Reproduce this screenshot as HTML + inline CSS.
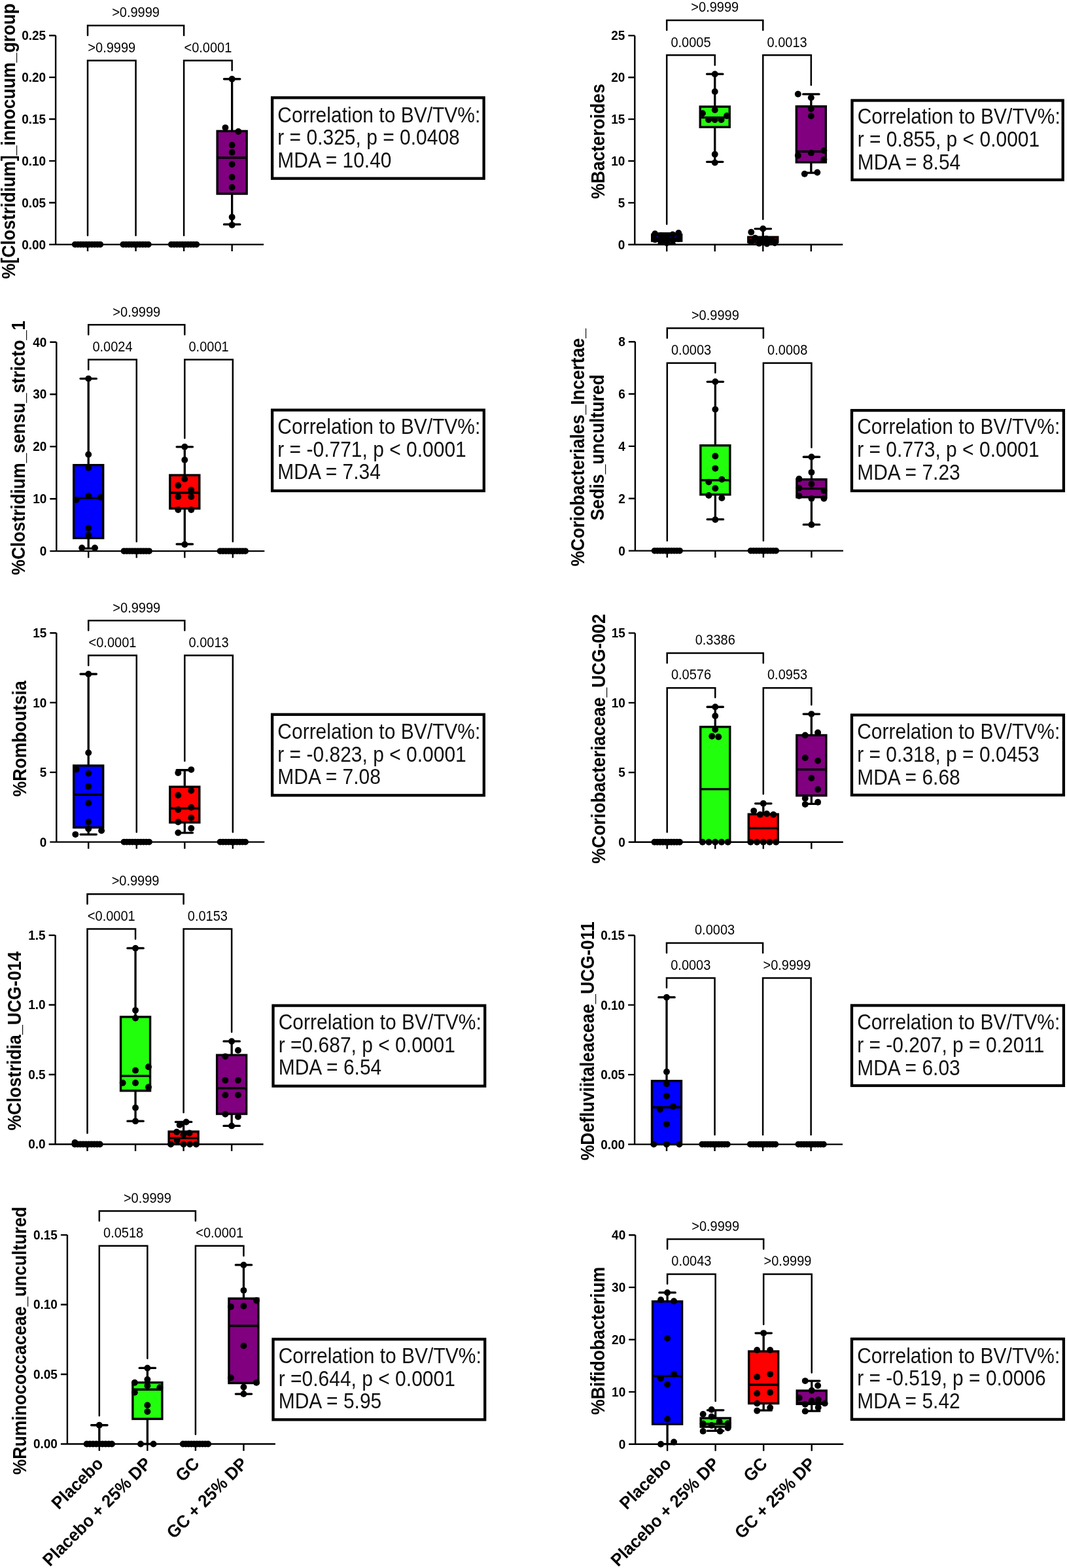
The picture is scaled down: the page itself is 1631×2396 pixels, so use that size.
<!DOCTYPE html>
<html><head><meta charset="utf-8"><title>Figure</title>
<style>html,body{margin:0;padding:0;background:#fff;overflow:hidden;}svg{display:block;}</style></head>
<body><svg width="1631" height="2396" viewBox="0 0 1631 2396" font-family="'Liberation Sans', Arial, Helvetica, sans-serif">
<rect width="1631" height="2396" fill="#fff"/>
<text transform="translate(22.7 215.8) rotate(-90) scale(1 1.12)" text-anchor="middle" font-weight="bold" font-size="26.6">%[Clostridium]_innocuum_group</text>
<text transform="translate(70.1 380.5) scale(1 1.09)" text-anchor="end" font-weight="bold" font-size="19">0.00</text>
<text transform="translate(70.1 316.62) scale(1 1.09)" text-anchor="end" font-weight="bold" font-size="19">0.05</text>
<text transform="translate(70.1 252.74) scale(1 1.09)" text-anchor="end" font-weight="bold" font-size="19">0.10</text>
<text transform="translate(70.1 188.86) scale(1 1.09)" text-anchor="end" font-weight="bold" font-size="19">0.15</text>
<text transform="translate(70.1 124.98) scale(1 1.09)" text-anchor="end" font-weight="bold" font-size="19">0.20</text>
<text transform="translate(70.1 61.1) scale(1 1.09)" text-anchor="end" font-weight="bold" font-size="19">0.25</text>
<path d="M85.1 54.2V373.6H403.1M75.1 373.6H85.1M75.1 309.72H85.1M75.1 245.84H85.1M75.1 181.96H85.1M75.1 118.08H85.1M75.1 54.2H85.1M134 373.6V384.1M207.55 373.6V384.1M281.1 373.6V384.1M354.65 373.6V384.1" stroke="#000" stroke-width="2.4" fill="none"/>
<path d="M134 54.1V39.1H281.1V54.1M134 359.7V92.4H207.55V359.7M281.1 359.7V92.4H354.65V107.5" stroke="#000" stroke-width="2.5" fill="none" stroke-linecap="round" stroke-linejoin="miter"/>
<text transform="translate(207.55 26.3) scale(1 1.14)" text-anchor="middle" font-size="20">&gt;0.9999</text>
<text transform="translate(170.78 79.6) scale(1 1.14)" text-anchor="middle" font-size="20">&gt;0.9999</text>
<text transform="translate(317.88 79.6) scale(1 1.14)" text-anchor="middle" font-size="20">&lt;0.0001</text>
<circle cx="114.8" cy="373.6" r="4.95"/>
<circle cx="119.07" cy="373.6" r="4.95"/>
<circle cx="123.33" cy="373.6" r="4.95"/>
<circle cx="127.6" cy="373.6" r="4.95"/>
<circle cx="131.87" cy="373.6" r="4.95"/>
<circle cx="136.13" cy="373.6" r="4.95"/>
<circle cx="140.4" cy="373.6" r="4.95"/>
<circle cx="144.67" cy="373.6" r="4.95"/>
<circle cx="148.93" cy="373.6" r="4.95"/>
<circle cx="153.2" cy="373.6" r="4.95"/>
<circle cx="188.35" cy="373.6" r="4.95"/>
<circle cx="192.62" cy="373.6" r="4.95"/>
<circle cx="196.88" cy="373.6" r="4.95"/>
<circle cx="201.15" cy="373.6" r="4.95"/>
<circle cx="205.42" cy="373.6" r="4.95"/>
<circle cx="209.68" cy="373.6" r="4.95"/>
<circle cx="213.95" cy="373.6" r="4.95"/>
<circle cx="218.22" cy="373.6" r="4.95"/>
<circle cx="222.48" cy="373.6" r="4.95"/>
<circle cx="226.75" cy="373.6" r="4.95"/>
<circle cx="261.9" cy="373.6" r="4.95"/>
<circle cx="266.17" cy="373.6" r="4.95"/>
<circle cx="270.43" cy="373.6" r="4.95"/>
<circle cx="274.7" cy="373.6" r="4.95"/>
<circle cx="278.97" cy="373.6" r="4.95"/>
<circle cx="283.23" cy="373.6" r="4.95"/>
<circle cx="287.5" cy="373.6" r="4.95"/>
<circle cx="291.77" cy="373.6" r="4.95"/>
<circle cx="296.03" cy="373.6" r="4.95"/>
<circle cx="300.3" cy="373.6" r="4.95"/>
<path d="M354.65 200.36V120.76M342.45 120.76H366.85M354.65 296.05V342.94M342.45 342.94H366.85" stroke="#000" stroke-width="3.3" stroke-linecap="round"/>
<rect x="332.15" y="200.36" width="45" height="95.69" fill="#800080" stroke="#000" stroke-width="3.4"/>
<path d="M332.15 240.99H377.15" stroke="#000" stroke-width="3.4"/>
<circle cx="344.45" cy="195.12" r="4.95"/>
<circle cx="364.35" cy="201" r="4.95"/>
<circle cx="354.65" cy="221.69" r="4.95"/>
<circle cx="354.65" cy="232.81" r="4.95"/>
<circle cx="354.65" cy="250.95" r="4.95"/>
<circle cx="354.65" cy="270.75" r="4.95"/>
<circle cx="354.65" cy="286.21" r="4.95"/>
<circle cx="354.65" cy="331.82" r="4.95"/>
<circle cx="354.65" cy="343.83" r="4.95"/>
<circle cx="354.65" cy="120.76" r="4.95"/>
<rect x="416.1" y="149.3" width="323.5" height="123.4" fill="none" stroke="#000" stroke-width="4.3"/>
<text transform="translate(424.3 186.8) scale(1 1.12)" fill="#111" font-size="30">Correlation to BV/TV%:</text>
<text transform="translate(424.3 221.4) scale(1 1.12)" fill="#111" font-size="30">r = 0.325, p = 0.0408</text>
<text transform="translate(424.3 256) scale(1 1.12)" fill="#111" font-size="30">MDA = 10.40</text>
<text transform="translate(923.6 216) rotate(-90) scale(1 1.12)" text-anchor="middle" font-weight="bold" font-size="26.6">%Bacteroides</text>
<text transform="translate(955.3 380.7) scale(1 1.09)" text-anchor="end" font-weight="bold" font-size="19">0</text>
<text transform="translate(955.3 316.82) scale(1 1.09)" text-anchor="end" font-weight="bold" font-size="19">5</text>
<text transform="translate(955.3 252.94) scale(1 1.09)" text-anchor="end" font-weight="bold" font-size="19">10</text>
<text transform="translate(955.3 189.06) scale(1 1.09)" text-anchor="end" font-weight="bold" font-size="19">15</text>
<text transform="translate(955.3 125.18) scale(1 1.09)" text-anchor="end" font-weight="bold" font-size="19">20</text>
<text transform="translate(955.3 61.3) scale(1 1.09)" text-anchor="end" font-weight="bold" font-size="19">25</text>
<path d="M970.3 54.4V373.8H1288.3M960.3 373.8H970.3M960.3 309.92H970.3M960.3 246.04H970.3M960.3 182.16H970.3M960.3 118.28H970.3M960.3 54.4H970.3M1019.2 373.8V384.3M1092.75 373.8V384.3M1166.3 373.8V384.3M1239.85 373.8V384.3" stroke="#000" stroke-width="2.4" fill="none"/>
<path d="M1019.2 46V31H1166.3V46M1019.2 342.5V84.3H1092.75V99.5M1166.3 335V84.3H1239.85V130" stroke="#000" stroke-width="2.5" fill="none" stroke-linecap="round" stroke-linejoin="miter"/>
<text transform="translate(1092.75 18.2) scale(1 1.14)" text-anchor="middle" font-size="20">&gt;0.9999</text>
<text transform="translate(1055.97 71.5) scale(1 1.14)" text-anchor="middle" font-size="20">0.0005</text>
<text transform="translate(1203.07 71.5) scale(1 1.14)" text-anchor="middle" font-size="20">0.0013</text>
<path d="M1019.2 358.47V356.55M1007 356.55H1031.4M1019.2 368.05V372.52M1007 372.52H1031.4" stroke="#000" stroke-width="3.3" stroke-linecap="round"/>
<rect x="996.7" y="358.47" width="45" height="9.58" fill="#0000FF" stroke="#000" stroke-width="3.4"/>
<path d="M996.7 364.86H1041.7" stroke="#000" stroke-width="3.4"/>
<circle cx="1001.2" cy="357.19" r="4.95"/>
<circle cx="1010.2" cy="359.75" r="4.95"/>
<circle cx="1019.2" cy="362.3" r="4.95"/>
<circle cx="1028.2" cy="358.47" r="4.95"/>
<circle cx="1037.2" cy="355.91" r="4.95"/>
<circle cx="1001.2" cy="366.13" r="4.95"/>
<circle cx="1010.2" cy="368.69" r="4.95"/>
<circle cx="1019.2" cy="371.24" r="4.95"/>
<circle cx="1028.2" cy="367.41" r="4.95"/>
<circle cx="1037.2" cy="364.86" r="4.95"/>
<path d="M1092.75 163V113.17M1080.55 113.17H1104.95M1092.75 194.17V247.32M1080.55 247.32H1104.95" stroke="#000" stroke-width="3.3" stroke-linecap="round"/>
<rect x="1070.25" y="163" width="45" height="31.17" fill="#22FF0D" stroke="#000" stroke-width="3.4"/>
<path d="M1070.25 179.6H1115.25" stroke="#000" stroke-width="3.4"/>
<circle cx="1092.75" cy="113.17" r="4.95"/>
<circle cx="1092.75" cy="140" r="4.95"/>
<circle cx="1092.75" cy="168.11" r="4.95"/>
<circle cx="1073.95" cy="173.22" r="4.95"/>
<circle cx="1111.05" cy="177.05" r="4.95"/>
<circle cx="1083.15" cy="182.93" r="4.95"/>
<circle cx="1092.75" cy="182.93" r="4.95"/>
<circle cx="1102.55" cy="182.93" r="4.95"/>
<circle cx="1092.75" cy="235.82" r="4.95"/>
<circle cx="1092.75" cy="248.6" r="4.95"/>
<path d="M1166.3 362.3V349.53M1154.1 349.53H1178.5M1166.3 369.97V373.16M1154.1 373.16H1178.5" stroke="#000" stroke-width="3.3" stroke-linecap="round"/>
<rect x="1143.8" y="362.3" width="45" height="7.67" fill="#FF0000" stroke="#000" stroke-width="3.4"/>
<path d="M1143.8 366.13H1188.8" stroke="#000" stroke-width="3.4"/>
<circle cx="1148.3" cy="354.64" r="4.95"/>
<circle cx="1166.3" cy="349.53" r="4.95"/>
<circle cx="1154.3" cy="363.58" r="4.95"/>
<circle cx="1162.3" cy="366.13" r="4.95"/>
<circle cx="1171.3" cy="364.86" r="4.95"/>
<circle cx="1180.3" cy="367.41" r="4.95"/>
<circle cx="1148.3" cy="369.97" r="4.95"/>
<circle cx="1160.3" cy="371.88" r="4.95"/>
<circle cx="1172.3" cy="372.52" r="4.95"/>
<circle cx="1184.3" cy="371.24" r="4.95"/>
<path d="M1239.85 162.61V143.96M1227.65 143.96H1252.05M1239.85 247.96V264.05M1227.65 264.05H1252.05" stroke="#000" stroke-width="3.3" stroke-linecap="round"/>
<rect x="1217.35" y="162.61" width="45" height="85.34" fill="#800080" stroke="#000" stroke-width="3.4"/>
<path d="M1217.35 231.48H1262.35" stroke="#000" stroke-width="3.4"/>
<circle cx="1219.85" cy="143.7" r="4.95"/>
<circle cx="1239.85" cy="149.33" r="4.95"/>
<circle cx="1239.85" cy="166.32" r="4.95"/>
<circle cx="1239.85" cy="177.18" r="4.95"/>
<circle cx="1219.85" cy="237.74" r="4.95"/>
<circle cx="1239.85" cy="233.65" r="4.95"/>
<circle cx="1259.35" cy="229.94" r="4.95"/>
<circle cx="1259.35" cy="243.87" r="4.95"/>
<circle cx="1229.85" cy="265.72" r="4.95"/>
<circle cx="1249.35" cy="263.54" r="4.95"/>
<rect x="1302.5" y="153.5" width="322.2" height="121.3" fill="none" stroke="#000" stroke-width="4.3"/>
<text transform="translate(1310.7 189.3) scale(1 1.12)" fill="#111" font-size="30">Correlation to BV/TV%:</text>
<text transform="translate(1310.7 223.9) scale(1 1.12)" fill="#111" font-size="30">r = 0.855, p &lt; 0.0001</text>
<text transform="translate(1310.7 258.5) scale(1 1.12)" fill="#111" font-size="30">MDA = 8.54</text>
<text transform="translate(38.4 684.3) rotate(-90) scale(1 1.12)" text-anchor="middle" font-weight="bold" font-size="26.6">%Clostridium_sensu_stricto_1</text>
<text transform="translate(71.3 849) scale(1 1.09)" text-anchor="end" font-weight="bold" font-size="19">0</text>
<text transform="translate(71.3 769.15) scale(1 1.09)" text-anchor="end" font-weight="bold" font-size="19">10</text>
<text transform="translate(71.3 689.3) scale(1 1.09)" text-anchor="end" font-weight="bold" font-size="19">20</text>
<text transform="translate(71.3 609.45) scale(1 1.09)" text-anchor="end" font-weight="bold" font-size="19">30</text>
<text transform="translate(71.3 529.6) scale(1 1.09)" text-anchor="end" font-weight="bold" font-size="19">40</text>
<path d="M86.3 522.7V842.1H404.3M76.3 842.1H86.3M76.3 762.25H86.3M76.3 682.4H86.3M76.3 602.55H86.3M76.3 522.7H86.3M135.2 842.1V852.6M208.75 842.1V852.6M282.3 842.1V852.6M355.85 842.1V852.6" stroke="#000" stroke-width="2.4" fill="none"/>
<path d="M135.2 511.3V496.3H282.3V511.3M135.2 564.8V549.6H208.75V827.6M282.3 669.6V549.6H355.85V827.6" stroke="#000" stroke-width="2.5" fill="none" stroke-linecap="round" stroke-linejoin="miter"/>
<text transform="translate(208.75 483.5) scale(1 1.14)" text-anchor="middle" font-size="20">&gt;0.9999</text>
<text transform="translate(171.97 536.8) scale(1 1.14)" text-anchor="middle" font-size="20">0.0024</text>
<text transform="translate(319.07 536.8) scale(1 1.14)" text-anchor="middle" font-size="20">0.0001</text>
<path d="M135.2 710.67V578.6M123 578.6H147.4M135.2 822.22V838.11M123 838.11H147.4" stroke="#000" stroke-width="3.3" stroke-linecap="round"/>
<rect x="112.7" y="710.67" width="45" height="111.55" fill="#0000FF" stroke="#000" stroke-width="3.4"/>
<path d="M112.7 761.13H157.7" stroke="#000" stroke-width="3.4"/>
<circle cx="135.2" cy="578.6" r="4.95"/>
<circle cx="135.2" cy="694.38" r="4.95"/>
<circle cx="135.2" cy="714.74" r="4.95"/>
<circle cx="116.6" cy="763.85" r="4.95"/>
<circle cx="135.2" cy="757.7" r="4.95"/>
<circle cx="153.8" cy="759.85" r="4.95"/>
<circle cx="135.2" cy="806.97" r="4.95"/>
<circle cx="135.2" cy="817.59" r="4.95"/>
<circle cx="125.2" cy="837.31" r="4.95"/>
<circle cx="145" cy="837.31" r="4.95"/>
<circle cx="189.55" cy="842.1" r="4.95"/>
<circle cx="193.82" cy="842.1" r="4.95"/>
<circle cx="198.08" cy="842.1" r="4.95"/>
<circle cx="202.35" cy="842.1" r="4.95"/>
<circle cx="206.62" cy="842.1" r="4.95"/>
<circle cx="210.88" cy="842.1" r="4.95"/>
<circle cx="215.15" cy="842.1" r="4.95"/>
<circle cx="219.42" cy="842.1" r="4.95"/>
<circle cx="223.68" cy="842.1" r="4.95"/>
<circle cx="227.95" cy="842.1" r="4.95"/>
<path d="M282.3 726.08V682.8M270.1 682.8H294.5M282.3 777.02V831.48M270.1 831.48H294.5" stroke="#000" stroke-width="3.3" stroke-linecap="round"/>
<rect x="259.8" y="726.08" width="45" height="50.94" fill="#FF0000" stroke="#000" stroke-width="3.4"/>
<path d="M259.8 753.07H304.8" stroke="#000" stroke-width="3.4"/>
<circle cx="282.3" cy="682.8" r="4.95"/>
<circle cx="282.3" cy="702.68" r="4.95"/>
<circle cx="282.3" cy="731.91" r="4.95"/>
<circle cx="272.3" cy="741.73" r="4.95"/>
<circle cx="292.3" cy="748.68" r="4.95"/>
<circle cx="272.3" cy="759.06" r="4.95"/>
<circle cx="292.3" cy="759.06" r="4.95"/>
<circle cx="272.3" cy="779.02" r="4.95"/>
<circle cx="292.3" cy="779.02" r="4.95"/>
<circle cx="282.3" cy="831.96" r="4.95"/>
<circle cx="336.65" cy="842.1" r="4.95"/>
<circle cx="340.92" cy="842.1" r="4.95"/>
<circle cx="345.18" cy="842.1" r="4.95"/>
<circle cx="349.45" cy="842.1" r="4.95"/>
<circle cx="353.72" cy="842.1" r="4.95"/>
<circle cx="357.98" cy="842.1" r="4.95"/>
<circle cx="362.25" cy="842.1" r="4.95"/>
<circle cx="366.52" cy="842.1" r="4.95"/>
<circle cx="370.78" cy="842.1" r="4.95"/>
<circle cx="375.05" cy="842.1" r="4.95"/>
<rect x="416.1" y="626.6" width="323.7" height="123.4" fill="none" stroke="#000" stroke-width="4.3"/>
<text transform="translate(424.3 663.2) scale(1 1.12)" fill="#111" font-size="30">Correlation to BV/TV%:</text>
<text transform="translate(424.3 697.8) scale(1 1.12)" fill="#111" font-size="30">r = -0.771, p &lt; 0.0001</text>
<text transform="translate(424.3 732.4) scale(1 1.12)" fill="#111" font-size="30">MDA = 7.34</text>
<text transform="translate(892.9 683.8) rotate(-90) scale(1 1.12)" text-anchor="middle" font-weight="bold" font-size="26.6">%Coriobacteriales_Incertae_</text>
<text transform="translate(922.9 683.8) rotate(-90) scale(1 1.12)" text-anchor="middle" font-weight="bold" font-size="26.6">Sedis_uncultured</text>
<text transform="translate(955.9 848.5) scale(1 1.09)" text-anchor="end" font-weight="bold" font-size="19">0</text>
<text transform="translate(955.9 768.65) scale(1 1.09)" text-anchor="end" font-weight="bold" font-size="19">2</text>
<text transform="translate(955.9 688.8) scale(1 1.09)" text-anchor="end" font-weight="bold" font-size="19">4</text>
<text transform="translate(955.9 608.95) scale(1 1.09)" text-anchor="end" font-weight="bold" font-size="19">6</text>
<text transform="translate(955.9 529.1) scale(1 1.09)" text-anchor="end" font-weight="bold" font-size="19">8</text>
<path d="M970.9 522.2V841.6H1288.9M960.9 841.6H970.9M960.9 761.75H970.9M960.9 681.9H970.9M960.9 602.05H970.9M960.9 522.2H970.9M1019.8 841.6V852.1M1093.35 841.6V852.1M1166.9 841.6V852.1M1240.45 841.6V852.1" stroke="#000" stroke-width="2.4" fill="none"/>
<path d="M1019.8 516.4V501.4H1166.9V516.4M1019.8 826.2V554.7H1093.35V569.5M1166.9 826.2V554.7H1240.45V683.7" stroke="#000" stroke-width="2.5" fill="none" stroke-linecap="round" stroke-linejoin="miter"/>
<text transform="translate(1093.35 488.6) scale(1 1.14)" text-anchor="middle" font-size="20">&gt;0.9999</text>
<text transform="translate(1056.57 541.9) scale(1 1.14)" text-anchor="middle" font-size="20">0.0003</text>
<text transform="translate(1203.67 541.9) scale(1 1.14)" text-anchor="middle" font-size="20">0.0008</text>
<circle cx="1000.6" cy="841.6" r="4.95"/>
<circle cx="1004.87" cy="841.6" r="4.95"/>
<circle cx="1009.13" cy="841.6" r="4.95"/>
<circle cx="1013.4" cy="841.6" r="4.95"/>
<circle cx="1017.67" cy="841.6" r="4.95"/>
<circle cx="1021.93" cy="841.6" r="4.95"/>
<circle cx="1026.2" cy="841.6" r="4.95"/>
<circle cx="1030.47" cy="841.6" r="4.95"/>
<circle cx="1034.73" cy="841.6" r="4.95"/>
<circle cx="1039" cy="841.6" r="4.95"/>
<path d="M1093.35 680.7V583.29M1081.15 583.29H1105.55M1093.35 755.76V793.69M1081.15 793.69H1105.55" stroke="#000" stroke-width="3.3" stroke-linecap="round"/>
<rect x="1070.85" y="680.7" width="45" height="75.06" fill="#22FF0D" stroke="#000" stroke-width="3.4"/>
<path d="M1070.85 733.8H1115.85" stroke="#000" stroke-width="3.4"/>
<circle cx="1093.35" cy="583.29" r="4.95"/>
<circle cx="1093.35" cy="625.61" r="4.95"/>
<circle cx="1093.35" cy="697.07" r="4.95"/>
<circle cx="1093.35" cy="715.84" r="4.95"/>
<circle cx="1083.35" cy="736.6" r="4.95"/>
<circle cx="1103.35" cy="732.6" r="4.95"/>
<circle cx="1093.35" cy="746.18" r="4.95"/>
<circle cx="1083.35" cy="756.96" r="4.95"/>
<circle cx="1103.35" cy="760.95" r="4.95"/>
<circle cx="1093.35" cy="794.09" r="4.95"/>
<circle cx="1147.7" cy="841.6" r="4.95"/>
<circle cx="1151.97" cy="841.6" r="4.95"/>
<circle cx="1156.23" cy="841.6" r="4.95"/>
<circle cx="1160.5" cy="841.6" r="4.95"/>
<circle cx="1164.77" cy="841.6" r="4.95"/>
<circle cx="1169.03" cy="841.6" r="4.95"/>
<circle cx="1173.3" cy="841.6" r="4.95"/>
<circle cx="1177.57" cy="841.6" r="4.95"/>
<circle cx="1181.83" cy="841.6" r="4.95"/>
<circle cx="1186.1" cy="841.6" r="4.95"/>
<path d="M1240.45 732.6V698.27M1228.25 698.27H1252.65M1240.45 759.75V801.68M1228.25 801.68H1252.65" stroke="#000" stroke-width="3.3" stroke-linecap="round"/>
<rect x="1217.95" y="732.6" width="45" height="27.15" fill="#800080" stroke="#000" stroke-width="3.4"/>
<path d="M1217.95 746.58H1262.95" stroke="#000" stroke-width="3.4"/>
<circle cx="1240.45" cy="698.27" r="4.95"/>
<circle cx="1240.45" cy="721.83" r="4.95"/>
<circle cx="1221.45" cy="731.81" r="4.95"/>
<circle cx="1240.45" cy="739.79" r="4.95"/>
<circle cx="1221.45" cy="745.78" r="4.95"/>
<circle cx="1259.45" cy="749.77" r="4.95"/>
<circle cx="1221.45" cy="757.76" r="4.95"/>
<circle cx="1240.45" cy="761.75" r="4.95"/>
<circle cx="1259.45" cy="761.75" r="4.95"/>
<circle cx="1240.45" cy="801.68" r="4.95"/>
<rect x="1302" y="627.1" width="323.9" height="122.9" fill="none" stroke="#000" stroke-width="4.3"/>
<text transform="translate(1310.2 663.4) scale(1 1.12)" fill="#111" font-size="30">Correlation to BV/TV%:</text>
<text transform="translate(1310.2 698) scale(1 1.12)" fill="#111" font-size="30">r = 0.773, p &lt; 0.0001</text>
<text transform="translate(1310.2 732.6) scale(1 1.12)" fill="#111" font-size="30">MDA = 7.23</text>
<text transform="translate(39.6 1128.8) rotate(-90) scale(1 1.12)" text-anchor="middle" font-weight="bold" font-size="26.6">%Romboutsia</text>
<text transform="translate(71.3 1293.5) scale(1 1.09)" text-anchor="end" font-weight="bold" font-size="19">0</text>
<text transform="translate(71.3 1187.03) scale(1 1.09)" text-anchor="end" font-weight="bold" font-size="19">5</text>
<text transform="translate(71.3 1080.57) scale(1 1.09)" text-anchor="end" font-weight="bold" font-size="19">10</text>
<text transform="translate(71.3 974.1) scale(1 1.09)" text-anchor="end" font-weight="bold" font-size="19">15</text>
<path d="M86.3 967.2V1286.6H404.3M76.3 1286.6H86.3M76.3 1180.13H86.3M76.3 1073.67H86.3M76.3 967.2H86.3M135.2 1286.6V1297.1M208.75 1286.6V1297.1M282.3 1286.6V1297.1M355.85 1286.6V1297.1" stroke="#000" stroke-width="2.4" fill="none"/>
<path d="M135.2 963.3V948.3H282.3V963.3M135.2 1016.7V1001.6H208.75V1271.6M282.3 1162.7V1001.6H355.85V1271.6" stroke="#000" stroke-width="2.5" fill="none" stroke-linecap="round" stroke-linejoin="miter"/>
<text transform="translate(208.75 935.5) scale(1 1.14)" text-anchor="middle" font-size="20">&gt;0.9999</text>
<text transform="translate(171.97 988.8) scale(1 1.14)" text-anchor="middle" font-size="20">&lt;0.0001</text>
<text transform="translate(319.07 988.8) scale(1 1.14)" text-anchor="middle" font-size="20">0.0013</text>
<path d="M135.2 1169.91V1030.02M123 1030.02H147.4M135.2 1264.45V1275.1M123 1275.1H147.4" stroke="#000" stroke-width="3.3" stroke-linecap="round"/>
<rect x="112.7" y="1169.91" width="45" height="94.54" fill="#0000FF" stroke="#000" stroke-width="3.4"/>
<path d="M112.7 1214.2H157.7" stroke="#000" stroke-width="3.4"/>
<circle cx="135.2" cy="1030.02" r="4.95"/>
<circle cx="135.2" cy="1150.32" r="4.95"/>
<circle cx="116.6" cy="1175.66" r="4.95"/>
<circle cx="135.2" cy="1181.84" r="4.95"/>
<circle cx="135.2" cy="1201.85" r="4.95"/>
<circle cx="135.2" cy="1227.19" r="4.95"/>
<circle cx="135.2" cy="1255.94" r="4.95"/>
<circle cx="135.2" cy="1266.58" r="4.95"/>
<circle cx="155.1" cy="1269.35" r="4.95"/>
<circle cx="115.3" cy="1275.1" r="4.95"/>
<circle cx="189.55" cy="1286.6" r="4.95"/>
<circle cx="193.82" cy="1286.6" r="4.95"/>
<circle cx="198.08" cy="1286.6" r="4.95"/>
<circle cx="202.35" cy="1286.6" r="4.95"/>
<circle cx="206.62" cy="1286.6" r="4.95"/>
<circle cx="210.88" cy="1286.6" r="4.95"/>
<circle cx="215.15" cy="1286.6" r="4.95"/>
<circle cx="219.42" cy="1286.6" r="4.95"/>
<circle cx="223.68" cy="1286.6" r="4.95"/>
<circle cx="227.95" cy="1286.6" r="4.95"/>
<path d="M282.3 1202.28V1176.73M270.1 1176.73H294.5M282.3 1256.79V1272.55M270.1 1272.55H294.5" stroke="#000" stroke-width="3.3" stroke-linecap="round"/>
<rect x="259.8" y="1202.28" width="45" height="54.51" fill="#FF0000" stroke="#000" stroke-width="3.4"/>
<path d="M259.8 1235.28H304.8" stroke="#000" stroke-width="3.4"/>
<circle cx="272.3" cy="1180.99" r="4.95"/>
<circle cx="292.3" cy="1176.09" r="4.95"/>
<circle cx="292.3" cy="1208.03" r="4.95"/>
<circle cx="272.3" cy="1215.27" r="4.95"/>
<circle cx="292.3" cy="1233.79" r="4.95"/>
<circle cx="272.3" cy="1237.2" r="4.95"/>
<circle cx="292.3" cy="1249.76" r="4.95"/>
<circle cx="272.3" cy="1255.94" r="4.95"/>
<circle cx="292.3" cy="1265.73" r="4.95"/>
<circle cx="272.3" cy="1272.55" r="4.95"/>
<circle cx="336.65" cy="1286.6" r="4.95"/>
<circle cx="340.92" cy="1286.6" r="4.95"/>
<circle cx="345.18" cy="1286.6" r="4.95"/>
<circle cx="349.45" cy="1286.6" r="4.95"/>
<circle cx="353.72" cy="1286.6" r="4.95"/>
<circle cx="357.98" cy="1286.6" r="4.95"/>
<circle cx="362.25" cy="1286.6" r="4.95"/>
<circle cx="366.52" cy="1286.6" r="4.95"/>
<circle cx="370.78" cy="1286.6" r="4.95"/>
<circle cx="375.05" cy="1286.6" r="4.95"/>
<rect x="416.1" y="1091.8" width="323.7" height="123.5" fill="none" stroke="#000" stroke-width="4.3"/>
<text transform="translate(424.3 1129.1) scale(1 1.12)" fill="#111" font-size="30">Correlation to BV/TV%:</text>
<text transform="translate(424.3 1163.7) scale(1 1.12)" fill="#111" font-size="30">r = -0.823, p &lt; 0.0001</text>
<text transform="translate(424.3 1198.3) scale(1 1.12)" fill="#111" font-size="30">MDA = 7.08</text>
<text transform="translate(924.9 1129) rotate(-90) scale(1 1.12)" text-anchor="middle" font-weight="bold" font-size="26.6">%Coriobacteriaceae_UCG-002</text>
<text transform="translate(955.8 1293.7) scale(1 1.09)" text-anchor="end" font-weight="bold" font-size="19">0</text>
<text transform="translate(955.8 1187.23) scale(1 1.09)" text-anchor="end" font-weight="bold" font-size="19">5</text>
<text transform="translate(955.8 1080.77) scale(1 1.09)" text-anchor="end" font-weight="bold" font-size="19">10</text>
<text transform="translate(955.8 974.3) scale(1 1.09)" text-anchor="end" font-weight="bold" font-size="19">15</text>
<path d="M970.8 967.4V1286.8H1288.8M960.8 1286.8H970.8M960.8 1180.33H970.8M960.8 1073.87H970.8M960.8 967.4H970.8M1019.7 1286.8V1297.3M1093.25 1286.8V1297.3M1166.8 1286.8V1297.3M1240.35 1286.8V1297.3" stroke="#000" stroke-width="2.4" fill="none"/>
<path d="M1019.7 1012.9V997.9H1166.8V1012.9M1019.7 1271.6V1051.2H1093.25V1065.8M1166.8 1213.2V1051.2H1240.35V1077" stroke="#000" stroke-width="2.5" fill="none" stroke-linecap="round" stroke-linejoin="miter"/>
<text transform="translate(1093.25 985.1) scale(1 1.14)" text-anchor="middle" font-size="20">0.3386</text>
<text transform="translate(1056.47 1038.4) scale(1 1.14)" text-anchor="middle" font-size="20">0.0576</text>
<text transform="translate(1203.57 1038.4) scale(1 1.14)" text-anchor="middle" font-size="20">0.0953</text>
<circle cx="1000.5" cy="1286.8" r="4.95"/>
<circle cx="1004.77" cy="1286.8" r="4.95"/>
<circle cx="1009.03" cy="1286.8" r="4.95"/>
<circle cx="1013.3" cy="1286.8" r="4.95"/>
<circle cx="1017.57" cy="1286.8" r="4.95"/>
<circle cx="1021.83" cy="1286.8" r="4.95"/>
<circle cx="1026.1" cy="1286.8" r="4.95"/>
<circle cx="1030.37" cy="1286.8" r="4.95"/>
<circle cx="1034.63" cy="1286.8" r="4.95"/>
<circle cx="1038.9" cy="1286.8" r="4.95"/>
<path d="M1093.25 1110.7V1080.25M1081.05 1080.25H1105.45" stroke="#000" stroke-width="3.3" stroke-linecap="round"/>
<rect x="1070.75" y="1110.7" width="45" height="176.1" fill="#22FF0D" stroke="#000" stroke-width="3.4"/>
<path d="M1070.75 1205.89H1115.75" stroke="#000" stroke-width="3.4"/>
<circle cx="1093.25" cy="1080.25" r="4.95"/>
<circle cx="1093.25" cy="1093.88" r="4.95"/>
<circle cx="1093.25" cy="1114.75" r="4.95"/>
<circle cx="1088.25" cy="1124.97" r="4.95"/>
<circle cx="1098.25" cy="1126.04" r="4.95"/>
<circle cx="1073.85" cy="1286.8" r="4.95"/>
<circle cx="1083.55" cy="1286.8" r="4.95"/>
<circle cx="1093.25" cy="1286.8" r="4.95"/>
<circle cx="1102.95" cy="1286.8" r="4.95"/>
<circle cx="1112.65" cy="1286.8" r="4.95"/>
<path d="M1166.8 1244.21V1227.82M1154.6 1227.82H1179" stroke="#000" stroke-width="3.3" stroke-linecap="round"/>
<rect x="1144.3" y="1244.21" width="45" height="42.59" fill="#FF0000" stroke="#000" stroke-width="3.4"/>
<path d="M1144.3 1265.51H1189.3" stroke="#000" stroke-width="3.4"/>
<circle cx="1166.8" cy="1227.82" r="4.95"/>
<circle cx="1152.2" cy="1239.1" r="4.95"/>
<circle cx="1162" cy="1244.64" r="4.95"/>
<circle cx="1172.1" cy="1243.57" r="4.95"/>
<circle cx="1182.2" cy="1244.64" r="4.95"/>
<circle cx="1147.4" cy="1286.8" r="4.95"/>
<circle cx="1157.1" cy="1286.8" r="4.95"/>
<circle cx="1166.8" cy="1286.8" r="4.95"/>
<circle cx="1176.5" cy="1286.8" r="4.95"/>
<circle cx="1186.2" cy="1286.8" r="4.95"/>
<path d="M1240.35 1123.48V1091.11M1228.15 1091.11H1252.55M1240.35 1215.68V1228.46M1228.15 1228.46H1252.55" stroke="#000" stroke-width="3.3" stroke-linecap="round"/>
<rect x="1217.85" y="1123.48" width="45" height="92.2" fill="#800080" stroke="#000" stroke-width="3.4"/>
<path d="M1217.85 1175.86H1262.85" stroke="#000" stroke-width="3.4"/>
<circle cx="1240.35" cy="1091.11" r="4.95"/>
<circle cx="1230.75" cy="1123.48" r="4.95"/>
<circle cx="1250.15" cy="1119.43" r="4.95"/>
<circle cx="1230.75" cy="1157.98" r="4.95"/>
<circle cx="1250.15" cy="1162.45" r="4.95"/>
<circle cx="1240.35" cy="1189.06" r="4.95"/>
<circle cx="1250.15" cy="1206.31" r="4.95"/>
<circle cx="1230.75" cy="1219.94" r="4.95"/>
<circle cx="1230.75" cy="1229.1" r="4.95"/>
<circle cx="1250.15" cy="1225.69" r="4.95"/>
<rect x="1302" y="1092.6" width="323.9" height="122.3" fill="none" stroke="#000" stroke-width="4.3"/>
<text transform="translate(1310.2 1129.4) scale(1 1.12)" fill="#111" font-size="30">Correlation to BV/TV%:</text>
<text transform="translate(1310.2 1164) scale(1 1.12)" fill="#111" font-size="30">r = 0.318, p = 0.0453</text>
<text transform="translate(1310.2 1198.6) scale(1 1.12)" fill="#111" font-size="30">MDA = 6.68</text>
<text transform="translate(31.9 1590.7) rotate(-90) scale(1 1.12)" text-anchor="middle" font-weight="bold" font-size="26.6">%Clostridia_UCG-014</text>
<text transform="translate(69.6 1755.4) scale(1 1.09)" text-anchor="end" font-weight="bold" font-size="19">0.0</text>
<text transform="translate(69.6 1648.93) scale(1 1.09)" text-anchor="end" font-weight="bold" font-size="19">0.5</text>
<text transform="translate(69.6 1542.47) scale(1 1.09)" text-anchor="end" font-weight="bold" font-size="19">1.0</text>
<text transform="translate(69.6 1436) scale(1 1.09)" text-anchor="end" font-weight="bold" font-size="19">1.5</text>
<path d="M84.6 1429.1V1748.5H402.6M74.6 1748.5H84.6M74.6 1642.03H84.6M74.6 1535.57H84.6M74.6 1429.1H84.6M133.5 1748.5V1759M207.05 1748.5V1759M280.6 1748.5V1759M354.15 1748.5V1759" stroke="#000" stroke-width="2.4" fill="none"/>
<path d="M133.5 1381.2V1366.2H280.6V1381.2M133.5 1731.5V1419.5H207.05V1434.7M280.6 1700.1V1419.5H354.15V1577" stroke="#000" stroke-width="2.5" fill="none" stroke-linecap="round" stroke-linejoin="miter"/>
<text transform="translate(207.05 1353.4) scale(1 1.14)" text-anchor="middle" font-size="20">&gt;0.9999</text>
<text transform="translate(170.28 1406.7) scale(1 1.14)" text-anchor="middle" font-size="20">&lt;0.0001</text>
<text transform="translate(317.38 1406.7) scale(1 1.14)" text-anchor="middle" font-size="20">0.0153</text>
<circle cx="114.3" cy="1748.5" r="4.95"/>
<circle cx="118.57" cy="1748.5" r="4.95"/>
<circle cx="122.83" cy="1748.5" r="4.95"/>
<circle cx="127.1" cy="1748.5" r="4.95"/>
<circle cx="131.37" cy="1748.5" r="4.95"/>
<circle cx="135.63" cy="1748.5" r="4.95"/>
<circle cx="139.9" cy="1748.5" r="4.95"/>
<circle cx="144.17" cy="1748.5" r="4.95"/>
<circle cx="148.43" cy="1748.5" r="4.95"/>
<circle cx="152.7" cy="1748.5" r="4.95"/>
<circle cx="114.5" cy="1745.94" r="4.95"/>
<path d="M207.05 1553.88V1448.9M194.85 1448.9H219.25M207.05 1666.73V1713.15M194.85 1713.15H219.25" stroke="#000" stroke-width="3.3" stroke-linecap="round"/>
<rect x="184.55" y="1553.88" width="45" height="112.85" fill="#22FF0D" stroke="#000" stroke-width="3.4"/>
<path d="M184.55 1644.16H229.55" stroke="#000" stroke-width="3.4"/>
<circle cx="207.05" cy="1448.9" r="4.95"/>
<circle cx="207.05" cy="1543.87" r="4.95"/>
<circle cx="207.05" cy="1555.8" r="4.95"/>
<circle cx="226.95" cy="1630.32" r="4.95"/>
<circle cx="207.05" cy="1635.65" r="4.95"/>
<circle cx="187.65" cy="1654.81" r="4.95"/>
<circle cx="207.05" cy="1654.81" r="4.95"/>
<circle cx="226.95" cy="1661.2" r="4.95"/>
<circle cx="207.05" cy="1692.71" r="4.95"/>
<circle cx="207.05" cy="1713.15" r="4.95"/>
<path d="M280.6 1729.12V1714.43M268.4 1714.43H292.8" stroke="#000" stroke-width="3.3" stroke-linecap="round"/>
<rect x="258.1" y="1729.12" width="45" height="19.38" fill="#FF0000" stroke="#000" stroke-width="3.4"/>
<path d="M258.1 1739.13H303.1" stroke="#000" stroke-width="3.4"/>
<circle cx="284.6" cy="1714.43" r="4.95"/>
<circle cx="274.6" cy="1718.9" r="4.95"/>
<circle cx="270.1" cy="1729.76" r="4.95"/>
<circle cx="289.6" cy="1731.47" r="4.95"/>
<circle cx="280.6" cy="1733.59" r="4.95"/>
<circle cx="270.6" cy="1742.75" r="4.95"/>
<circle cx="261.1" cy="1748.5" r="4.95"/>
<circle cx="280.6" cy="1748.5" r="4.95"/>
<circle cx="290.2" cy="1748.5" r="4.95"/>
<circle cx="299.9" cy="1748.5" r="4.95"/>
<path d="M354.15 1612.22V1591.14M341.95 1591.14H366.35M354.15 1702.08V1720.39M341.95 1720.39H366.35" stroke="#000" stroke-width="3.3" stroke-linecap="round"/>
<rect x="331.65" y="1612.22" width="45" height="89.86" fill="#800080" stroke="#000" stroke-width="3.4"/>
<path d="M331.65 1662.69H376.65" stroke="#000" stroke-width="3.4"/>
<circle cx="354.15" cy="1591.14" r="4.95"/>
<circle cx="363.95" cy="1604.98" r="4.95"/>
<circle cx="344.35" cy="1614.35" r="4.95"/>
<circle cx="344.35" cy="1650.76" r="4.95"/>
<circle cx="363.95" cy="1650.76" r="4.95"/>
<circle cx="344.35" cy="1673.33" r="4.95"/>
<circle cx="363.95" cy="1673.33" r="4.95"/>
<circle cx="344.35" cy="1702.51" r="4.95"/>
<circle cx="363.95" cy="1706.55" r="4.95"/>
<circle cx="354.15" cy="1720.39" r="4.95"/>
<rect x="417.5" y="1536.6" width="323.7" height="123" fill="none" stroke="#000" stroke-width="4.3"/>
<text transform="translate(425.7 1573) scale(1 1.12)" fill="#111" font-size="30">Correlation to BV/TV%:</text>
<text transform="translate(425.7 1607.6) scale(1 1.12)" fill="#111" font-size="30">r =0.687, p &lt; 0.0001</text>
<text transform="translate(425.7 1642.2) scale(1 1.12)" fill="#111" font-size="30">MDA = 6.54</text>
<text transform="translate(908 1590.8) rotate(-90) scale(1 1.12)" text-anchor="middle" font-weight="bold" font-size="26.6">%Defluviitaleaceae_UCG-011</text>
<text transform="translate(955.1 1755.5) scale(1 1.09)" text-anchor="end" font-weight="bold" font-size="19">0.00</text>
<text transform="translate(955.1 1649.03) scale(1 1.09)" text-anchor="end" font-weight="bold" font-size="19">0.05</text>
<text transform="translate(955.1 1542.57) scale(1 1.09)" text-anchor="end" font-weight="bold" font-size="19">0.10</text>
<text transform="translate(955.1 1436.1) scale(1 1.09)" text-anchor="end" font-weight="bold" font-size="19">0.15</text>
<path d="M970.1 1429.2V1748.6H1288.1M960.1 1748.6H970.1M960.1 1642.13H970.1M960.1 1535.67H970.1M960.1 1429.2H970.1M1019 1748.6V1759.1M1092.55 1748.6V1759.1M1166.1 1748.6V1759.1M1239.65 1748.6V1759.1" stroke="#000" stroke-width="2.4" fill="none"/>
<path d="M1019 1456.1V1441.1H1166.1V1456.1M1019 1509.3V1494.4H1092.55V1734.1M1166.1 1734.1V1494.4H1239.65V1734.1" stroke="#000" stroke-width="2.5" fill="none" stroke-linecap="round" stroke-linejoin="miter"/>
<text transform="translate(1092.55 1428.3) scale(1 1.14)" text-anchor="middle" font-size="20">0.0003</text>
<text transform="translate(1055.78 1481.6) scale(1 1.14)" text-anchor="middle" font-size="20">0.0003</text>
<text transform="translate(1202.88 1481.6) scale(1 1.14)" text-anchor="middle" font-size="20">&gt;0.9999</text>
<path d="M1019 1651.72V1523.96M1006.8 1523.96H1031.2" stroke="#000" stroke-width="3.3" stroke-linecap="round"/>
<rect x="996.5" y="1651.72" width="45" height="96.88" fill="#0000FF" stroke="#000" stroke-width="3.4"/>
<path d="M996.5 1691.96H1041.5" stroke="#000" stroke-width="3.4"/>
<circle cx="1019" cy="1523.96" r="4.95"/>
<circle cx="1019" cy="1637.66" r="4.95"/>
<circle cx="1019" cy="1656.19" r="4.95"/>
<circle cx="1019" cy="1674.71" r="4.95"/>
<circle cx="1009" cy="1695.37" r="4.95"/>
<circle cx="1029" cy="1690.68" r="4.95"/>
<circle cx="1019" cy="1717.72" r="4.95"/>
<circle cx="999.4" cy="1748.6" r="4.95"/>
<circle cx="1019" cy="1748.6" r="4.95"/>
<circle cx="1038.4" cy="1748.6" r="4.95"/>
<circle cx="1073.35" cy="1748.6" r="4.95"/>
<circle cx="1077.62" cy="1748.6" r="4.95"/>
<circle cx="1081.88" cy="1748.6" r="4.95"/>
<circle cx="1086.15" cy="1748.6" r="4.95"/>
<circle cx="1090.42" cy="1748.6" r="4.95"/>
<circle cx="1094.68" cy="1748.6" r="4.95"/>
<circle cx="1098.95" cy="1748.6" r="4.95"/>
<circle cx="1103.22" cy="1748.6" r="4.95"/>
<circle cx="1107.48" cy="1748.6" r="4.95"/>
<circle cx="1111.75" cy="1748.6" r="4.95"/>
<circle cx="1146.9" cy="1748.6" r="4.95"/>
<circle cx="1151.17" cy="1748.6" r="4.95"/>
<circle cx="1155.43" cy="1748.6" r="4.95"/>
<circle cx="1159.7" cy="1748.6" r="4.95"/>
<circle cx="1163.97" cy="1748.6" r="4.95"/>
<circle cx="1168.23" cy="1748.6" r="4.95"/>
<circle cx="1172.5" cy="1748.6" r="4.95"/>
<circle cx="1176.77" cy="1748.6" r="4.95"/>
<circle cx="1181.03" cy="1748.6" r="4.95"/>
<circle cx="1185.3" cy="1748.6" r="4.95"/>
<circle cx="1220.45" cy="1748.6" r="4.95"/>
<circle cx="1224.72" cy="1748.6" r="4.95"/>
<circle cx="1228.98" cy="1748.6" r="4.95"/>
<circle cx="1233.25" cy="1748.6" r="4.95"/>
<circle cx="1237.52" cy="1748.6" r="4.95"/>
<circle cx="1241.78" cy="1748.6" r="4.95"/>
<circle cx="1246.05" cy="1748.6" r="4.95"/>
<circle cx="1250.32" cy="1748.6" r="4.95"/>
<circle cx="1254.58" cy="1748.6" r="4.95"/>
<circle cx="1258.85" cy="1748.6" r="4.95"/>
<rect x="1302" y="1536.4" width="323.9" height="122.5" fill="none" stroke="#000" stroke-width="4.3"/>
<text transform="translate(1310.2 1573.4) scale(1 1.12)" fill="#111" font-size="30">Correlation to BV/TV%:</text>
<text transform="translate(1310.2 1608) scale(1 1.12)" fill="#111" font-size="30">r = -0.207, p = 0.2011</text>
<text transform="translate(1310.2 1642.6) scale(1 1.12)" fill="#111" font-size="30">MDA = 6.03</text>
<text transform="translate(39.6 2048.7) rotate(-90) scale(1 1.12)" text-anchor="middle" font-weight="bold" font-size="26.6">%Ruminococcaceae_uncultured</text>
<text transform="translate(87.9 2213.4) scale(1 1.09)" text-anchor="end" font-weight="bold" font-size="19">0.00</text>
<text transform="translate(87.9 2106.93) scale(1 1.09)" text-anchor="end" font-weight="bold" font-size="19">0.05</text>
<text transform="translate(87.9 2000.47) scale(1 1.09)" text-anchor="end" font-weight="bold" font-size="19">0.10</text>
<text transform="translate(87.9 1894) scale(1 1.09)" text-anchor="end" font-weight="bold" font-size="19">0.15</text>
<path d="M102.9 1887.1V2206.5H420.9M92.9 2206.5H102.9M92.9 2100.03H102.9M92.9 1993.57H102.9M92.9 1887.1H102.9M151.8 2206.5V2217M225.35 2206.5V2217M298.9 2206.5V2217M372.45 2206.5V2217" stroke="#000" stroke-width="2.4" fill="none"/>
<path d="M151.8 1865.5V1850.5H298.9V1865.5M151.8 2163.3V1903.8H225.35V2075.7M298.9 2191.7V1903.8H372.45V1919.1" stroke="#000" stroke-width="2.5" fill="none" stroke-linecap="round" stroke-linejoin="miter"/>
<text transform="translate(225.35 1837.7) scale(1 1.14)" text-anchor="middle" font-size="20">&gt;0.9999</text>
<text transform="translate(188.58 1891) scale(1 1.14)" text-anchor="middle" font-size="20">0.0518</text>
<text transform="translate(335.67 1891) scale(1 1.14)" text-anchor="middle" font-size="20">&lt;0.0001</text>
<path d="M151.8 2206.5V2177.75M139.6 2177.75H164" stroke="#000" stroke-width="3.3" stroke-linecap="round"/>
<circle cx="132.6" cy="2206.5" r="4.95"/>
<circle cx="137.4" cy="2206.5" r="4.95"/>
<circle cx="142.2" cy="2206.5" r="4.95"/>
<circle cx="147" cy="2206.5" r="4.95"/>
<circle cx="151.8" cy="2206.5" r="4.95"/>
<circle cx="156.6" cy="2206.5" r="4.95"/>
<circle cx="161.4" cy="2206.5" r="4.95"/>
<circle cx="166.2" cy="2206.5" r="4.95"/>
<circle cx="171" cy="2206.5" r="4.95"/>
<circle cx="151.8" cy="2177.75" r="4.95"/>
<path d="M225.35 2112.6V2090.45M213.15 2090.45H237.55M225.35 2168.17V2206.5M213.15 2206.5H237.55" stroke="#000" stroke-width="3.3" stroke-linecap="round"/>
<rect x="202.85" y="2112.6" width="45" height="55.58" fill="#22FF0D" stroke="#000" stroke-width="3.4"/>
<path d="M202.85 2123.24H247.85" stroke="#000" stroke-width="3.4"/>
<circle cx="225.35" cy="2090.45" r="4.95"/>
<circle cx="225.35" cy="2107.91" r="4.95"/>
<circle cx="205.85" cy="2112.81" r="4.95"/>
<circle cx="225.35" cy="2117.49" r="4.95"/>
<circle cx="244.35" cy="2120.26" r="4.95"/>
<circle cx="205.85" cy="2127.71" r="4.95"/>
<circle cx="225.35" cy="2147.3" r="4.95"/>
<circle cx="225.35" cy="2157.1" r="4.95"/>
<circle cx="215.05" cy="2206.5" r="4.95"/>
<circle cx="234.55" cy="2206.5" r="4.95"/>
<circle cx="279.7" cy="2206.5" r="4.95"/>
<circle cx="283.97" cy="2206.5" r="4.95"/>
<circle cx="288.23" cy="2206.5" r="4.95"/>
<circle cx="292.5" cy="2206.5" r="4.95"/>
<circle cx="296.77" cy="2206.5" r="4.95"/>
<circle cx="301.03" cy="2206.5" r="4.95"/>
<circle cx="305.3" cy="2206.5" r="4.95"/>
<circle cx="309.57" cy="2206.5" r="4.95"/>
<circle cx="313.83" cy="2206.5" r="4.95"/>
<circle cx="318.1" cy="2206.5" r="4.95"/>
<path d="M372.45 1984.2V1932.88M360.25 1932.88H384.65M372.45 2113.45V2130.06M360.25 2130.06H384.65" stroke="#000" stroke-width="3.3" stroke-linecap="round"/>
<rect x="349.95" y="1984.2" width="45" height="129.25" fill="#800080" stroke="#000" stroke-width="3.4"/>
<path d="M349.95 2025.93H394.95" stroke="#000" stroke-width="3.4"/>
<circle cx="372.45" cy="1932.88" r="4.95"/>
<circle cx="372.45" cy="1971.85" r="4.95"/>
<circle cx="391.95" cy="1987.18" r="4.95"/>
<circle cx="352.95" cy="1996.76" r="4.95"/>
<circle cx="372.45" cy="1995.7" r="4.95"/>
<circle cx="372.45" cy="2056.38" r="4.95"/>
<circle cx="352.95" cy="2105.14" r="4.95"/>
<circle cx="391.95" cy="2112.81" r="4.95"/>
<circle cx="372.45" cy="2119.62" r="4.95"/>
<circle cx="372.45" cy="2130.06" r="4.95"/>
<text transform="translate(159.2 2238.3) rotate(-45) scale(1 1.05)" text-anchor="end" font-weight="bold" font-size="25.6">Placebo</text>
<text transform="translate(232.75 2238.3) rotate(-45) scale(1 1.05)" text-anchor="end" font-weight="bold" font-size="25.6">Placebo + 25% DP</text>
<text transform="translate(306.3 2238.3) rotate(-45) scale(1 1.05)" text-anchor="end" font-weight="bold" font-size="25.6">GC</text>
<text transform="translate(379.85 2238.3) rotate(-45) scale(1 1.05)" text-anchor="end" font-weight="bold" font-size="25.6">GC + 25% DP</text>
<rect x="417.5" y="2046.4" width="323.7" height="122.9" fill="none" stroke="#000" stroke-width="4.3"/>
<text transform="translate(425.7 2083.2) scale(1 1.12)" fill="#111" font-size="30">Correlation to BV/TV%:</text>
<text transform="translate(425.7 2117.8) scale(1 1.12)" fill="#111" font-size="30">r =0.644, p &lt; 0.0001</text>
<text transform="translate(425.7 2152.4) scale(1 1.12)" fill="#111" font-size="30">MDA = 5.95</text>
<text transform="translate(924.2 2048.9) rotate(-90) scale(1 1.12)" text-anchor="middle" font-weight="bold" font-size="26.6">%Bifidobacterium</text>
<text transform="translate(956.2 2213.6) scale(1 1.09)" text-anchor="end" font-weight="bold" font-size="19">0</text>
<text transform="translate(956.2 2133.75) scale(1 1.09)" text-anchor="end" font-weight="bold" font-size="19">10</text>
<text transform="translate(956.2 2053.9) scale(1 1.09)" text-anchor="end" font-weight="bold" font-size="19">20</text>
<text transform="translate(956.2 1974.05) scale(1 1.09)" text-anchor="end" font-weight="bold" font-size="19">30</text>
<text transform="translate(956.2 1894.2) scale(1 1.09)" text-anchor="end" font-weight="bold" font-size="19">40</text>
<path d="M971.2 1887.3V2206.7H1289.2M961.2 2206.7H971.2M961.2 2126.85H971.2M961.2 2047H971.2M961.2 1967.15H971.2M961.2 1887.3H971.2M1020.1 2206.7V2217.2M1093.65 2206.7V2217.2M1167.2 2206.7V2217.2M1240.75 2206.7V2217.2" stroke="#000" stroke-width="2.4" fill="none"/>
<path d="M1020.1 1908.6V1893.6H1167.2V1908.6M1020.1 1961.7V1946.9H1093.65V2141.1M1167.2 2023.7V1946.9H1240.75V2097.4" stroke="#000" stroke-width="2.5" fill="none" stroke-linecap="round" stroke-linejoin="miter"/>
<text transform="translate(1093.65 1880.8) scale(1 1.14)" text-anchor="middle" font-size="20">&gt;0.9999</text>
<text transform="translate(1056.88 1934.1) scale(1 1.14)" text-anchor="middle" font-size="20">0.0043</text>
<text transform="translate(1203.97 1934.1) scale(1 1.14)" text-anchor="middle" font-size="20">&gt;0.9999</text>
<path d="M1020.1 1988.71V1975.13M1007.9 1975.13H1032.3M1020.1 2176.12V2206.7M1007.9 2206.7H1032.3" stroke="#000" stroke-width="3.3" stroke-linecap="round"/>
<rect x="997.6" y="1988.71" width="45" height="187.41" fill="#0000FF" stroke="#000" stroke-width="3.4"/>
<path d="M997.6 2102.66H1042.6" stroke="#000" stroke-width="3.4"/>
<circle cx="1020.1" cy="1975.13" r="4.95"/>
<circle cx="1010.1" cy="1986.31" r="4.95"/>
<circle cx="1030.1" cy="1988.23" r="4.95"/>
<circle cx="1020.1" cy="2044.92" r="4.95"/>
<circle cx="1030.1" cy="2099.86" r="4.95"/>
<circle cx="1010.1" cy="2106.33" r="4.95"/>
<circle cx="1020.1" cy="2115.51" r="4.95"/>
<circle cx="1020.1" cy="2168.45" r="4.95"/>
<circle cx="1010.1" cy="2206.7" r="4.95"/>
<circle cx="1030.1" cy="2203.51" r="4.95"/>
<path d="M1093.65 2167.01V2154.8M1081.45 2154.8H1105.85M1093.65 2180.19V2186.42M1081.45 2186.42H1105.85" stroke="#000" stroke-width="3.3" stroke-linecap="round"/>
<rect x="1071.15" y="2167.01" width="45" height="13.18" fill="#22FF0D" stroke="#000" stroke-width="3.4"/>
<path d="M1071.15 2175.72H1116.15" stroke="#000" stroke-width="3.4"/>
<circle cx="1087.65" cy="2154" r="4.95"/>
<circle cx="1074.65" cy="2161.03" r="4.95"/>
<circle cx="1087.65" cy="2164.78" r="4.95"/>
<circle cx="1099.65" cy="2172.36" r="4.95"/>
<circle cx="1074.65" cy="2175.56" r="4.95"/>
<circle cx="1112.65" cy="2175.16" r="4.95"/>
<circle cx="1087.65" cy="2177.95" r="4.95"/>
<circle cx="1074.65" cy="2186.9" r="4.95"/>
<circle cx="1100.65" cy="2186.9" r="4.95"/>
<circle cx="1112.65" cy="2182.03" r="4.95"/>
<path d="M1167.2 2064.97V2037.1M1155 2037.1H1179.4M1167.2 2144.5V2155.12M1155 2155.12H1179.4" stroke="#000" stroke-width="3.3" stroke-linecap="round"/>
<rect x="1144.7" y="2064.97" width="45" height="79.53" fill="#FF0000" stroke="#000" stroke-width="3.4"/>
<path d="M1144.7 2115.99H1189.7" stroke="#000" stroke-width="3.4"/>
<circle cx="1167.2" cy="2037.1" r="4.95"/>
<circle cx="1157.2" cy="2063.05" r="4.95"/>
<circle cx="1177.2" cy="2063.05" r="4.95"/>
<circle cx="1177.2" cy="2099.86" r="4.95"/>
<circle cx="1157.2" cy="2104.09" r="4.95"/>
<circle cx="1157.2" cy="2129.17" r="4.95"/>
<circle cx="1177.2" cy="2127.73" r="4.95"/>
<circle cx="1157.2" cy="2144.5" r="4.95"/>
<circle cx="1177.2" cy="2150.96" r="4.95"/>
<circle cx="1157.2" cy="2155.68" r="4.95"/>
<path d="M1240.75 2125.01V2110.08M1228.55 2110.08H1252.95M1240.75 2145.38V2156.15M1228.55 2156.15H1252.95" stroke="#000" stroke-width="3.3" stroke-linecap="round"/>
<rect x="1218.25" y="2125.01" width="45" height="20.36" fill="#800080" stroke="#000" stroke-width="3.4"/>
<path d="M1218.25 2143.62H1263.25" stroke="#000" stroke-width="3.4"/>
<circle cx="1230.75" cy="2110.08" r="4.95"/>
<circle cx="1250.15" cy="2117.27" r="4.95"/>
<circle cx="1240.75" cy="2124.77" r="4.95"/>
<circle cx="1221.75" cy="2135.95" r="4.95"/>
<circle cx="1250.75" cy="2138.83" r="4.95"/>
<circle cx="1240.75" cy="2140.42" r="4.95"/>
<circle cx="1230.75" cy="2145.69" r="4.95"/>
<circle cx="1260.75" cy="2144.42" r="4.95"/>
<circle cx="1250.75" cy="2150.65" r="4.95"/>
<circle cx="1230.75" cy="2156.39" r="4.95"/>
<text transform="translate(1027.5 2238.5) rotate(-45) scale(1 1.05)" text-anchor="end" font-weight="bold" font-size="25.6">Placebo</text>
<text transform="translate(1101.05 2238.5) rotate(-45) scale(1 1.05)" text-anchor="end" font-weight="bold" font-size="25.6">Placebo + 25% DP</text>
<text transform="translate(1174.6 2238.5) rotate(-45) scale(1 1.05)" text-anchor="end" font-weight="bold" font-size="25.6">GC</text>
<text transform="translate(1248.15 2238.5) rotate(-45) scale(1 1.05)" text-anchor="end" font-weight="bold" font-size="25.6">GC + 25% DP</text>
<rect x="1302" y="2046" width="323.9" height="122.9" fill="none" stroke="#000" stroke-width="4.3"/>
<text transform="translate(1310.2 2082.7) scale(1 1.12)" fill="#111" font-size="30">Correlation to BV/TV%:</text>
<text transform="translate(1310.2 2117.3) scale(1 1.12)" fill="#111" font-size="30">r = -0.519, p = 0.0006</text>
<text transform="translate(1310.2 2151.9) scale(1 1.12)" fill="#111" font-size="30">MDA = 5.42</text>
</svg></body></html>
